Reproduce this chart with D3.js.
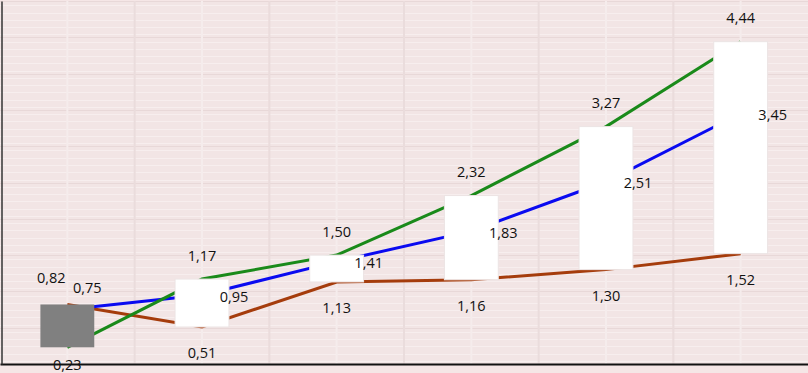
<!DOCTYPE html>
<html>
<head>
<meta charset="utf-8">
<script src="https://cdn.jsdelivr.net/npm/d3@7"></script>
<style>
  html, body { margin: 0; padding: 0; background: #f5e6e6; }
  svg { display: block; }
  text { font-family: "Open Sans", sans-serif; font-size: 14.5px; fill: #111; }
</style>
</head>
<body>
<svg id="chart" width="808" height="373"></svg>
<script>
// ---- data ----
const categories = ["1", "2", "3", "4", "5", "6"];
const openValues  = [0.82, 0.51, 1.13, 1.16, 1.30, 1.52];   // brown line
const closeValues = [0.23, 1.17, 1.50, 2.32, 3.27, 4.44];   // green line
const midValues   = [0.75, 0.95, 1.41, 1.83, 2.51, 3.45];   // blue line
const yTicks = [0, 0.5, 1, 1.5, 2, 2.5, 3, 3.5, 4, 4.5, 5];

// ---- layout ----
const plot = { left: 0, right: 808, top: 1, bottom: 364 };
const svg = d3.select("#chart");

const x = d3.scaleBand().domain(categories).range([plot.left, plot.right]).padding(0);
const y = d3.scaleLinear().domain([0, 5]).range([plot.bottom, plot.top]);
const cx = c => x(c) + x.bandwidth() / 2;

// background of plot
svg.append("rect").attr("x", plot.left).attr("y", plot.top)
  .attr("width", plot.right - plot.left).attr("height", plot.bottom - plot.top)
  .attr("fill", "#f2e5e5");

// minor horizontal grid
const minor = d3.range(0, 5.001, 0.1);
svg.append("g").selectAll("line").data(minor).join("line")
  .attr("x1", plot.left).attr("x2", plot.right)
  .attr("y1", d => Math.round(y(d)) - 2.5).attr("y2", d => Math.round(y(d)) - 2.5)
  .attr("stroke", "#f7eeee").attr("stroke-width", 1);

// major horizontal grid
svg.append("g").selectAll("line").data(yTicks).join("line")
  .attr("x1", plot.left).attr("x2", plot.right)
  .attr("y1", d => Math.round(y(d)) + 0.5).attr("y2", d => Math.round(y(d)) + 0.5)
  .attr("stroke", "#e8d8d8").attr("stroke-width", 1);

// vertical grid: category boundaries and centers
svg.append("g").selectAll("line").data(categories.slice(1)).join("line")
  .attr("x1", d => x(d)).attr("x2", d => x(d))
  .attr("y1", plot.top).attr("y2", plot.bottom)
  .attr("stroke", "#eadcdc").attr("stroke-width", 2);
svg.append("g").selectAll("line").data(categories).join("line")
  .attr("x1", d => cx(d)).attr("x2", d => cx(d))
  .attr("y1", plot.top).attr("y2", plot.bottom)
  .attr("stroke", "#f5ecec").attr("stroke-width", 2);

// lines
const seriesLines = [
  { vals: openValues,  color: "#a53c0c" },
  { vals: midValues,   color: "#0a0af0" },
  { vals: closeValues, color: "#1a8a1a" }
];
const lineGen = d3.line().x((d, i) => cx(categories[i])).y(d => y(d));
seriesLines.forEach(s => {
  svg.append("path").datum(s.vals).attr("d", lineGen)
    .attr("fill", "none").attr("stroke", s.color).attr("stroke-width", 3);
});

// up/down bars
const barW = x.bandwidth() * 0.4;
svg.append("g").selectAll("rect").data(categories).join("rect")
  .attr("x", (c) => cx(c) - barW / 2)
  .attr("y", (c, i) => y(Math.max(openValues[i], closeValues[i])))
  .attr("width", barW)
  .attr("height", (c, i) => Math.abs(y(openValues[i]) - y(closeValues[i])))
  .attr("fill", (c, i) => closeValues[i] >= openValues[i] ? "#ffffff" : "#808080")
  .attr("stroke", (c, i) => closeValues[i] >= openValues[i] ? "#ece4e4" : "none")
  .attr("stroke-width", 1);

// axes
svg.append("g").attr("transform", `translate(0,${plot.bottom})`)
  .call(d3.axisBottom(x).tickSize(0).tickFormat(""))
  .call(g => g.select(".domain").attr("stroke", "#111").attr("stroke-width", 2));
svg.append("g").attr("transform", `translate(${plot.left + 1.5},0)`)
  .call(d3.axisLeft(y).tickValues([]).tickSizeOuter(0))
  .call(g => g.select(".domain").attr("stroke", "#333").attr("stroke-width", 1.5));

// labels
const fmt = v => d3.format(".2f")(v).replace(".", ",");
const labels = [];
categories.forEach((c, i) => {
  const hi = Math.max(openValues[i], closeValues[i]);
  const lo = Math.min(openValues[i], closeValues[i]);
  const first = i === 0;
  labels.push({ x: cx(c) + (first ? -16 : 0), y: y(hi) - (first ? 27 : 24), t: fmt(hi) });
  labels.push({ x: cx(c), y: y(lo) + (first ? 17 : 26), t: fmt(lo) });
  labels.push({ x: cx(c) + (first ? 20 : 32), y: y(midValues[i]) + (first ? -22 : 1), t: fmt(midValues[i]) });
});
svg.append("g").selectAll("text").data(labels).join("text")
  .attr("x", d => d.x).attr("y", d => d.y)
  .attr("text-anchor", "middle").attr("dominant-baseline", "central")
  .text(d => d.t);
</script>
</body>
</html>
